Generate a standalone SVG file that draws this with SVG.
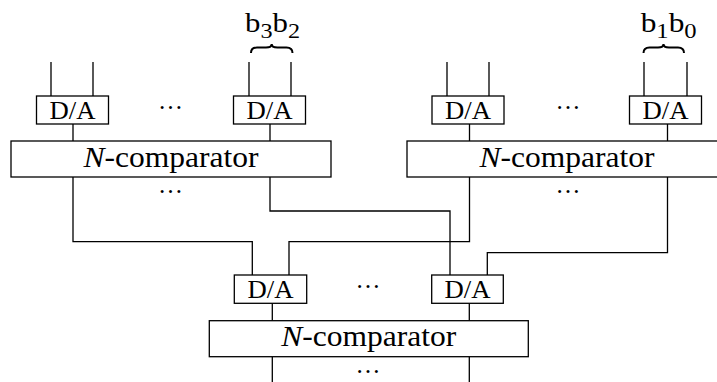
<svg xmlns="http://www.w3.org/2000/svg" width="717" height="382" viewBox="0 0 717 382">
<style>
.box{fill:#fff;stroke:#000;stroke-width:1.3}
.w{fill:none;stroke:#000;stroke-width:1.3}
text{font-family:"Liberation Serif","Times New Roman",Times,serif;fill:#000;text-anchor:middle}
.da{font-size:26px}
.nc{font-size:30px}
.dots{font-size:25px}
.bits{font-size:28px}
.br{fill:none;stroke:#000;stroke-width:2}
</style>
<g id="connectors">
<path class="w" d="M51,62V96M93,62V96M249,62V96M291,62V96M447,62V96M489,62V96M644,62V96M687,62V96"/>
<path class="w" d="M73,124V141M270,124V141M469.5,124V141M667.5,124V141"/>
<path class="w" d="M73,177V241.7H252.3V275"/>
<path class="w" d="M270,177V211H450V275"/>
<path class="w" d="M469.5,177V241.7H289V275"/>
<path class="w" d="M667.5,177V252.7H487.3V275"/>
<path class="w" d="M272.3,303.3V320.7M469.3,303.3V320.7M272.3,356.7V382M469.3,356.7V382"/>
</g>
<g id="bits32">
<text class="bits" x="272.5" y="31.7" textLength="55" lengthAdjust="spacingAndGlyphs">b<tspan font-size="22" dy="6">3</tspan><tspan dy="-6">b</tspan><tspan font-size="22" dy="6">2</tspan></text>
<path class="br" d="M251,53Q251,47.5 257,47.5L266,47.5Q271.7,47.5 271.7,44Q271.7,47.5 277.4,47.5L286.5,47.5Q292.5,47.5 292.5,53"/>
</g>
<g id="bits10">
<text class="bits" x="668.7" y="31.7" textLength="56" lengthAdjust="spacingAndGlyphs">b<tspan font-size="22" dy="6">1</tspan><tspan dy="-6">b</tspan><tspan font-size="22" dy="6">0</tspan></text>
<path class="br" d="M643.5,53Q643.5,47.5 649.5,47.5L658,47.5Q663.5,47.5 663.5,44Q663.5,47.5 669,47.5L678,47.5Q684,47.5 684,53"/>
</g>
<g id="da1"><rect class="box" x="36.5" y="96" width="72" height="28"/><text class="da" x="72.5" y="118.5" textLength="46" lengthAdjust="spacingAndGlyphs">D/A</text></g>
<g id="da2"><rect class="box" x="233.5" y="96" width="72" height="28"/><text class="da" x="269.5" y="118.5" textLength="46" lengthAdjust="spacingAndGlyphs">D/A</text></g>
<g id="da3"><rect class="box" x="432" y="96" width="72" height="28"/><text class="da" x="468" y="118.5" textLength="46" lengthAdjust="spacingAndGlyphs">D/A</text></g>
<g id="da4"><rect class="box" x="629.5" y="96" width="72" height="28"/><text class="da" x="665.5" y="118.5" textLength="46" lengthAdjust="spacingAndGlyphs">D/A</text></g>
<g id="cmpL"><rect class="box" x="11" y="141" width="320" height="36"/><text class="nc" x="171" y="166.5" textLength="175" lengthAdjust="spacingAndGlyphs"><tspan font-style="italic">N</tspan>-comparator</text></g>
<g id="cmpR"><rect class="box" x="407" y="141" width="320" height="36"/><text class="nc" x="567" y="166.5" textLength="175" lengthAdjust="spacingAndGlyphs"><tspan font-style="italic">N</tspan>-comparator</text></g>
<g id="da5"><rect class="box" x="234.3" y="275" width="72.4" height="28.3"/><text class="da" x="270.5" y="297.7" textLength="46" lengthAdjust="spacingAndGlyphs">D/A</text></g>
<g id="da6"><rect class="box" x="431.7" y="275" width="71.6" height="28.3"/><text class="da" x="467.5" y="297.7" textLength="46" lengthAdjust="spacingAndGlyphs">D/A</text></g>
<g id="cmpB"><rect class="box" x="209.3" y="320.7" width="319" height="36"/><text class="nc" x="368.8" y="346.2" textLength="175" lengthAdjust="spacingAndGlyphs"><tspan font-style="italic">N</tspan>-comparator</text></g>
<g id="dots">
<text class="dots" x="170.5" y="108.5">…</text>
<text class="dots" x="568" y="108.5">…</text>
<text class="dots" x="170.5" y="193">…</text>
<text class="dots" x="568" y="193">…</text>
<text class="dots" x="368" y="288">…</text>
<text class="dots" x="368" y="373">…</text>
</g>
</svg>
